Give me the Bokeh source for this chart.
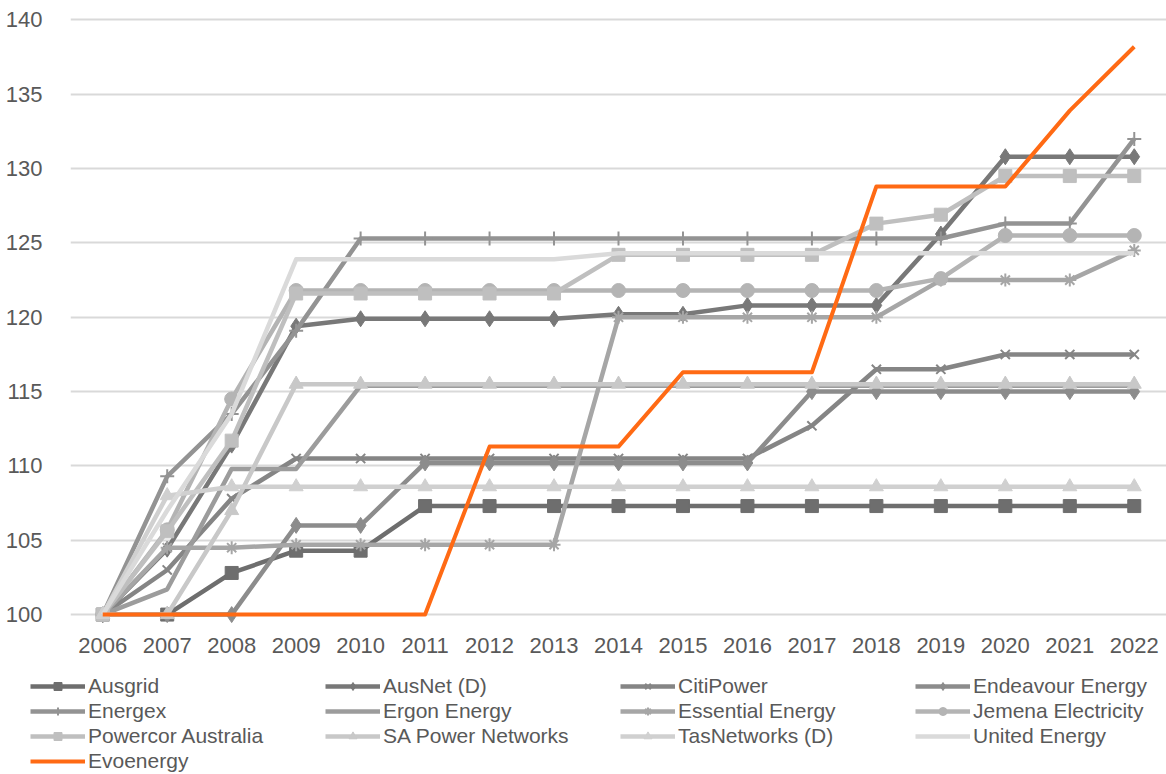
from bokeh.plotting import figure
from bokeh.models import Range1d, FixedTicker, Legend, LegendItem
from bokeh.layouts import column, row
from bokeh.embed import file_html
from bokeh.resources import INLINE

years = [2006, 2007, 2008, 2009, 2010, 2011, 2012, 2013, 2014, 2015, 2016, 2017, 2018, 2019, 2020, 2021, 2022]
year_labels = [str(y) for y in years]
y_ticks = [100, 105, 110, 115, 120, 125, 130, 135, 140]

ausgrid = [100, 100, 102.8, 104.3, 104.3, 107.3, 107.3, 107.3, 107.3, 107.3, 107.3, 107.3, 107.3, 107.3, 107.3, 107.3, 107.3]
ausnet = [100, 104.4, 111.4, 119.4, 119.9, 119.9, 119.9, 119.9, 120.2, 120.2, 120.8, 120.8, 120.8, 125.6, 130.8, 130.8, 130.8]
citipower = [100, 103.0, 107.8, 110.5, 110.5, 110.5, 110.5, 110.5, 110.5, 110.5, 110.5, 112.7, 116.5, 116.5, 117.5, 117.5, 117.5]
endeavour = [100, 100, 100, 106.0, 106.0, 110.2, 110.2, 110.2, 110.2, 110.2, 110.2, 115.0, 115.0, 115.0, 115.0, 115.0, 115.0]
energex = [100, 109.3, 113.5, 119.1, 125.3, 125.3, 125.3, 125.3, 125.3, 125.3, 125.3, 125.3, 125.3, 125.3, 126.3, 126.3, 132.0]
ergon = [100, 101.7, 109.8, 109.8, 115.4, 115.4, 115.4, 115.4, 115.4, 115.4, 115.4, 115.4, 115.4, 115.4, 115.4, 115.4, 115.4]
essential = [100, 104.5, 104.5, 104.7, 104.7, 104.7, 104.7, 104.7, 120.0, 120.0, 120.0, 120.0, 120.0, 122.5, 122.5, 122.5, 124.5]
jemena = [100, 105.7, 114.5, 121.8, 121.8, 121.8, 121.8, 121.8, 121.8, 121.8, 121.8, 121.8, 121.8, 122.6, 125.5, 125.5, 125.5]
powercor = [100, 105.6, 111.7, 121.6, 121.6, 121.6, 121.6, 121.6, 124.2, 124.2, 124.2, 124.2, 126.3, 126.9, 129.5, 129.5, 129.5]
sapower = [100, 100, 107.0, 115.5, 115.5, 115.5, 115.5, 115.5, 115.5, 115.5, 115.5, 115.5, 115.5, 115.5, 115.5, 115.5, 115.5]
tasnetworks = [100, 108.0, 108.6, 108.6, 108.6, 108.6, 108.6, 108.6, 108.6, 108.6, 108.6, 108.6, 108.6, 108.6, 108.6, 108.6, 108.6]
united = [100, 107.0, 113.5, 123.9, 123.9, 123.9, 123.9, 123.9, 124.3, 124.3, 124.3, 124.3, 124.3, 124.3, 124.3, 124.3, 124.3]
evoenergy = [100, 100, 100, 100, 100, 100, 111.3, 111.3, 111.3, 116.3, 116.3, 116.3, 128.8, 128.8, 128.8, 133.9, 138.2]

series = [
    ("Ausgrid", ausgrid, "#6e6e6e", "square", 13),
    ("AusNet (D)", ausnet, "#787878", "diamond", 16),
    ("CitiPower", citipower, "#858585", "x", 13),
    ("Endeavour Energy", endeavour, "#8c8c8c", "diamond", 16),
    ("Energex", energex, "#939393", "cross", 14),
    ("Ergon Energy", ergon, "#9c9c9c", None, 0),
    ("Essential Energy", essential, "#a6a6a6", "asterisk", 13),
    ("Jemena Electricity", jemena, "#b4b4b4", "circle", 14),
    ("Powercor Australia", powercor, "#bfbfbf", "square", 13),
    ("SA Power Networks", sapower, "#c8c8c8", "triangle", 14),
    ("TasNetworks (D)", tasnetworks, "#d0d0d0", "triangle", 14),
    ("United Energy", united, "#dadada", None, 0),
    ("Evoenergy", evoenergy, "#ff6a14", None, 0),
]

FONT = "Liberation Sans"
TXT = "#595959"


def draw_series(fig, name, vals, color, marker, size):
    lw = 4 if name == "Evoenergy" else 4.5
    rs = [fig.line(years, vals, line_color=color, line_width=lw, line_join="round")]
    if marker:
        if marker in ("x", "cross", "asterisk"):
            rs.append(fig.scatter(years, vals, marker=marker, size=size, line_color=color,
                                  line_width=2, fill_color=None))
        else:
            rs.append(fig.scatter(years, vals, marker=marker, size=size, line_color=color,
                                  fill_color=color, line_width=1))
    return rs


# main chart
p = figure(width=1166, height=664, output_backend="svg", toolbar_location=None,
           x_range=Range1d(2005.5, 2022.5), y_range=Range1d(99.4, 140.3),
           min_border_left=70, min_border_right=0, min_border_top=15, min_border_bottom=41)
p.outline_line_color = None
p.background_fill_color = "white"
p.border_fill_color = "white"
p.xgrid.grid_line_color = None
p.ygrid.grid_line_color = "#d9d9d9"
p.ygrid.grid_line_width = 2
p.yaxis.ticker = FixedTicker(ticks=y_ticks)
p.xaxis.ticker = FixedTicker(ticks=years)
p.xaxis.major_label_overrides = {y: s for y, s in zip(years, year_labels)}
for ax in (p.xaxis[0], p.yaxis[0]):
    ax.axis_line_color = None
    ax.major_tick_line_color = None
    ax.minor_tick_line_color = None
    ax.major_label_text_font = FONT
    ax.major_label_text_font_size = "22px"
    ax.major_label_text_color = TXT
p.yaxis.major_label_standoff = 22
p.xaxis.major_label_standoff = 8

for name, vals, color, marker, size in series:
    draw_series(p, name, vals, color, marker, size)

# legend strip (same series, plotted outside its empty frame; only the legend shows)
lg = figure(width=1166, height=110, output_backend="svg", toolbar_location=None,
            x_range=Range1d(0, 1), y_range=Range1d(0, 1),
            x_axis_location=None, y_axis_location=None,
            min_border_left=0, min_border_right=0, min_border_top=0, min_border_bottom=0)
lg.outline_line_color = None
lg.grid.grid_line_color = None
lg.background_fill_color = "white"
lg.border_fill_color = "white"

items = []
for name, vals, color, marker, size in series:
    items.append(LegendItem(label=name, renderers=draw_series(lg, name, vals, color, marker, size)))

legend = Legend(items=items, orientation="horizontal", ncols=4,
                location=(30, 1), glyph_width=55, glyph_height=20, label_height=20,
                label_width=236, label_standoff=3, spacing=1, padding=0, margin=0,
                border_line_color=None, background_fill_alpha=0,
                label_text_font=FONT, label_text_font_size="21px", label_text_color=TXT)
lg.add_layout(legend, "center")

layout = column(p, row(lg, spacing=0), spacing=0)
open("out.html", "w").write(file_html(layout, INLINE))
